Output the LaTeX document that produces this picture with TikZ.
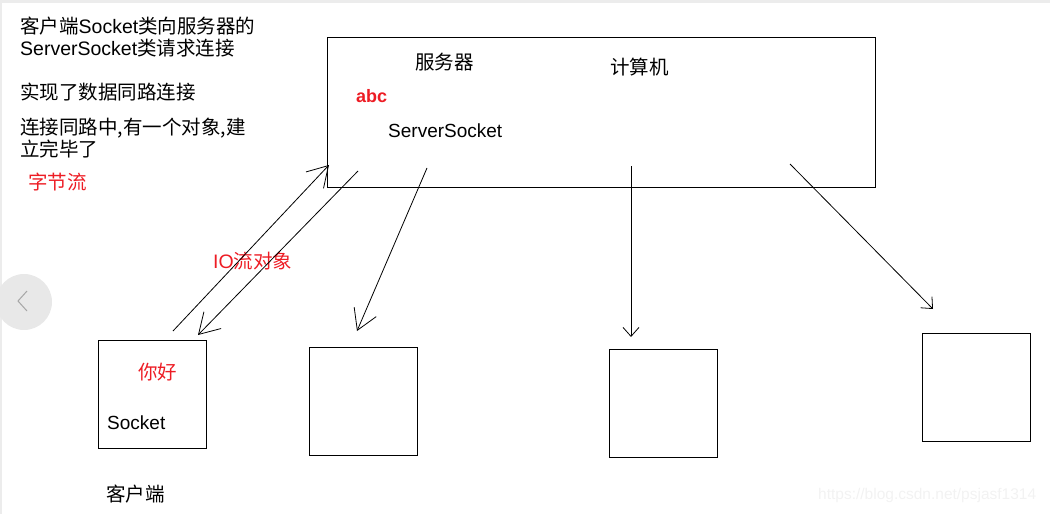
\documentclass[tikz,border=0pt]{standalone}
\usepackage{fontspec}
\setmainfont{Noto Sans CJK SC}
\newfontfamily\lat{Liberation Sans}
\usetikzlibrary{arrows.meta,positioning}
\definecolor{inkred}{RGB}{237,28,36}

\begin{document}
\begin{tikzpicture}[
    x=1pt, y=-1pt,
    txt/.style={anchor=west, inner sep=0pt, align=left, font=\fontsize{19.5}{22}\selectfont},
    note/.style={txt, text=inkred},
    box/.style={draw, line width=1pt, minimum width=108pt, minimum height=108pt, inner sep=0pt},
    arr/.style={-{Straight Barb[length=20pt,width=24pt]}, line width=0.8pt},
    tip/.style={-{Straight Barb[length=9pt,width=16pt]}, line width=0.8pt}
  ]
  \useasboundingbox (0,0) rectangle (1050,514);
  % page frame and side button of the screenshot
  \fill[gray!15] (0,0) rectangle (1050,3);
  \fill[gray!15] (0,0) rectangle (2,514);
  \fill[gray!18] (24,302) circle (28);
  \draw[gray!70, line width=1pt] (27,291) -- (18,301) -- (27,311);

  % notes on the left
  \node[txt, anchor=north west] (intro) at (20,17)
    {客户端{\lat Socket}类向服务器的\\{\lat ServerSocket}类请求连接};
  \node[txt] (link) at (20,92) {实现了数据同路连接};
  \node[txt, anchor=north west] (done) at (20,118) {连接同路中,有一个对象,建\\立完毕了};
  \node[note] (bytes) at (28,182) {字节流};

  % server
  \node[draw, line width=1pt, minimum width=548pt, minimum height=150pt] (srv) at (601,112) {};
  \node[txt] (srvname) at (415,62) {服务器};
  \node[txt] (pc) at (610,67) {计算机};
  \node[note, font=\fontsize{18}{22}\selectfont\lat\bfseries] (abc) at (356,96) {abc};
  \node[txt, font=\fontsize{19}{22}\selectfont\lat] (ss) at (388,131) {ServerSocket};

  % clients
  \node[box] (cli) at (152.5,394.5) {};
  \node[note] (hello) at (138,372) {你好};
  \node[txt, font=\fontsize{19}{22}\selectfont\lat] (sock) at (107,423) {Socket};
  \node[txt] (cliname) at (106,494) {客户端};
  \node[box] (c2) at (363,401) {};
  \node[box] (c3) at (663,403.5) {};
  \node[box] (c4) at (976,387) {};

  \node[note] (io) at (213,261) {{\lat IO}流对象};

  % stream ends
  \coordinate (up0) at (173,331);
  \coordinate (up1) at (329,165);
  \coordinate (dn0) at (358,171);
  \coordinate (dn1) at (198,335);
  \coordinate (a0) at (427,168);
  \coordinate (a1) at (357,331);
  \coordinate (b0) at (631,166);
  \coordinate (b1) at (631,337);
  \coordinate (d0) at (790,164);
  \coordinate (d1) at (933,309);

  \draw[arr] (up0) -- (up1);
  \draw[arr] (dn0) -- (dn1);
  \draw[arr] (a0) -- (a1);
  \draw[tip] (b0) -- (b1);
  \draw[tip] (d0) -- (d1);

  \node[anchor=west, inner sep=0pt, text=gray!10, font=\fontsize{15.5}{18}\selectfont\lat] (mark) at (818,495)
    {https://blog.csdn.net/psjasf1314};
\end{tikzpicture}
\end{document}
